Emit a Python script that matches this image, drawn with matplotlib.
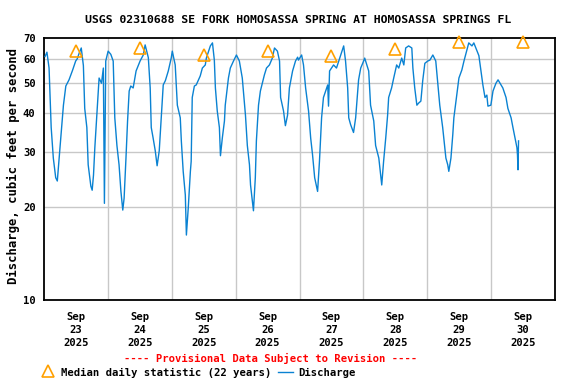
import numpy as np
import pandas as pd
import matplotlib
matplotlib.use("Agg")
import matplotlib.pyplot as plt
from matplotlib.ticker import FixedLocator, NullLocator, FixedFormatter

# discharge readings: hours after 2025-09-23 00:00, cubic feet per second
hours = [0.4, 1.1, 1.9, 2.3, 2.7, 3.5, 4.4, 5.0, 5.3, 6.3, 7.3, 8.2, 9.4, 10.7, 11.9,
         12.5, 13.2, 14.0, 14.8, 15.3, 16.1, 16.6, 17.6, 18.1, 18.6, 19.1, 20.1, 20.7,
         21.6, 22.3, 22.7, 23.2, 24.1, 25.1, 26.0, 26.6, 27.4, 28.2, 28.9, 29.6, 30.1,
         30.8, 31.4, 32.0, 32.6, 33.5, 34.6, 36.1, 37.3, 38.0, 39.2, 39.9, 40.3, 41.0,
         41.8, 42.5, 43.3, 44.1, 44.8, 45.6, 46.7, 47.8, 48.2, 49.3, 50.1, 51.2, 51.6,
         52.3, 53.1, 53.5, 54.2, 55.0, 55.3, 55.7, 56.5, 57.2, 58.7, 59.5, 60.6, 61.0,
         62.5, 63.3, 64.0, 64.4, 65.1, 65.9, 66.3, 67.0, 67.8, 68.1, 69.3, 70.0, 71.2,
         72.3, 73.4, 74.5, 75.7, 76.4, 77.2, 77.6, 78.7, 79.4, 79.8, 80.6, 81.3, 82.8,
         83.6, 84.7, 85.8, 86.6, 87.7, 88.5, 88.9, 90.0, 90.7, 91.5, 92.2, 93.4, 94.5,
         95.3, 95.6, 96.8, 97.5, 98.3, 99.4, 100.2, 100.9, 101.7, 102.8, 103.5, 104.3,
         105.0, 106.6, 106.9, 107.3, 108.8, 109.9, 111.1, 112.6, 113.3, 114.1, 114.5,
         115.2, 116.3, 117.1, 118.2, 119.0, 120.1, 120.5, 122.0, 122.7, 123.9, 124.6,
         125.8, 126.9, 127.6, 128.4, 129.1, 129.5, 130.6, 131.4, 132.5, 133.3, 134.4,
         135.2, 135.9, 137.0, 138.2, 138.6, 139.3, 140.1, 140.8, 141.6, 142.3, 143.1,
         144.2, 145.0, 146.1, 147.2, 148.0, 148.7, 149.8, 150.2, 151.0, 151.7, 152.1,
         152.9, 153.6, 154.0, 155.1, 155.9, 157.0, 157.8, 158.9, 159.6, 160.8, 161.5,
         162.7, 163.4, 164.2, 164.9, 165.7, 166.4, 166.8, 167.9, 168.7, 169.8, 170.6,
         171.7, 172.4, 173.6, 174.3, 175.5, 176.2, 177.0, 177.7, 177.9, 178.1, 178.3]
flow = [61, 63, 56, 45, 36, 28.7, 24.8, 24.2, 26, 33.3, 42.5, 49, 51.3, 55, 59,
        60, 62.5, 65, 57, 41.5, 36, 27.3, 23.3, 22.6, 25.3, 31, 42.5, 52,
        50, 56, 20.5, 59, 63.5, 62, 59, 38.7, 31.5, 27.3, 22.4, 19.5, 21.3,
        28.7, 37.8, 47.2, 49, 48.3, 54.8, 59, 61.7, 66.5, 60.5, 48.3, 36, 33.3,
        30.3, 27.1, 30.3, 39.4, 49.4, 51, 54.8, 60.3, 63.5, 57.3, 42.5, 38.7, 32.6,
        26, 21.8, 16.2, 19.8, 26, 28, 45, 49, 49.4, 52.8, 56, 57.3, 60.3,
        66, 67.5, 59.4, 48.3, 40.7, 36, 29.2, 33.3, 37.8, 42.5, 52, 56, 59,
        61.7, 59, 52, 39.4, 31.5, 27.3, 23.5, 19.4, 24.8, 32.6, 42.5, 47.2, 53.2,
        56, 57.3, 60.3, 65, 63.5, 59, 45, 40.7, 36.5, 39.4, 48.3, 54.8, 59,
        60.7, 59.4, 61.7, 57.3, 48.3, 40.7, 33.3, 29.4, 24.8, 22.4, 28, 38.7,
        45, 49.4, 42.2, 54.8, 57.3, 56, 60.3, 66, 59, 48.3, 38.7,
        36.8, 34.7, 38.7, 51.3, 56, 59, 60.3, 54.8, 42.5, 37.8, 31.5,
        28.7, 23.5, 28, 33.3, 39.4, 45, 48.3, 52, 57.3, 56, 60.3,
        57.3, 65, 66, 65, 56, 48.3, 42.5, 43.2, 43.8, 51, 58,
        59, 59.4, 61.7, 59, 49.4, 42.5, 36, 33.3, 28.7, 27.3, 26,
        28.7, 34.2, 38.7, 45.8, 52, 55.2, 59, 64, 67.5, 66, 67.5,
        63.5, 61.4, 54.8, 49.4, 45, 45.8, 42.2, 42.5, 47.2, 50, 51.3,
        49.4, 48.3, 45, 41.5, 38.7, 36, 33.3, 31, 29.4, 26.3, 32.6]

# median daily statistic (22 years), plotted at noon
median_days = ["2025-09-23", "2025-09-24", "2025-09-25", "2025-09-26",
               "2025-09-27", "2025-09-28", "2025-09-29", "2025-09-30"]
median_vals = [63.5, 65, 61.7, 63.5, 61.3, 64.5, 68, 68]

y_ticks = [10, 20, 30, 40, 50, 60, 70]

start = pd.Timestamp("2025-09-23")
times = start + pd.to_timedelta(hours, unit="h")
med_times = pd.to_datetime(median_days) + pd.Timedelta(hours=12)

mono = "DejaVu Sans Mono"
blue = "#0a82d2"
orange = "#ffa000"

fig = plt.figure(figsize=(5.76, 3.84), dpi=100)
ax = fig.add_axes([44 / 576, 1 - 300 / 384, 511 / 576, 262 / 384])

ax.plot(times, flow, color=blue, lw=1.0, zorder=3)
ax.plot(med_times, median_vals, linestyle="none", marker="^", markersize=8,
        markerfacecolor="none", markeredgecolor=orange, markeredgewidth=1.2,
        zorder=4, clip_on=False)

ax.set_yscale("log")
ax.set_ylim(10, 70)
ax.yaxis.set_major_locator(FixedLocator(y_ticks))
ax.yaxis.set_major_formatter(FixedFormatter([str(v) for v in y_ticks]))
ax.yaxis.set_minor_locator(NullLocator())

ax.set_xlim(start, start + pd.Timedelta(days=8))
day_lines = [start + pd.Timedelta(days=i) for i in range(1, 8)]
label_pos = [start + pd.Timedelta(days=i, hours=12) for i in range(8)]
ax.set_xticks(label_pos)
ax.set_xticklabels([f"Sep\n{d.day}\n2025" for d in label_pos])
for d in day_lines:
    ax.axvline(d, color="#c8c8c8", lw=1.0, zorder=1)
for v in y_ticks[1:-1]:
    ax.axhline(v, color="#c8c8c8", lw=1.0, zorder=1)

ax.tick_params(length=0)
ax.tick_params(axis="x", pad=9)
ax.tick_params(axis="y", pad=6)
for lab in ax.get_xticklabels() + ax.get_yticklabels():
    lab.set_fontfamily(mono)
    lab.set_fontweight("bold")
    lab.set_fontsize(7.6)
for lab in ax.get_xticklabels():
    lab.set_linespacing(1.35)

for s in ax.spines.values():
    s.set_linewidth(1.3)

fig.text(13 / 576, 1 - 166 / 384, "Discharge, cubic feet per second",
         rotation=90, ha="center", va="center", family=mono, weight="bold",
         fontsize=8.8)

fig.text(298 / 576, 1 - 20 / 384,
         "USGS 02310688 SE FORK HOMOSASSA SPRING AT HOMOSASSA SPRINGS FL",
         ha="center", va="center", family=mono, weight="bold", fontsize=8.25)
fig.text(271 / 576, 1 - 358 / 384, "---- Provisional Data Subject to Revision ----",
         ha="center", va="center", family=mono, weight="bold", fontsize=7.6, color="red")

# legend
fig.lines.append(plt.Line2D([48 / 576], [1 - 371 / 384], marker="^", markersize=8,
                            markerfacecolor="none", markeredgecolor=orange,
                            markeredgewidth=1.2, transform=fig.transFigure))
fig.text(61 / 576, 1 - 373 / 384, "Median daily statistic (22 years)",
         ha="left", va="center", family=mono, weight="bold", fontsize=7.6)
fig.lines.append(plt.Line2D([278 / 576, 293 / 576], [1 - 372 / 384] * 2,
                            color=blue, lw=1.0, transform=fig.transFigure))
fig.text(298 / 576, 1 - 373 / 384, "Discharge",
         ha="left", va="center", family=mono, weight="bold", fontsize=7.6)

fig.savefig("out.png", dpi=100)
